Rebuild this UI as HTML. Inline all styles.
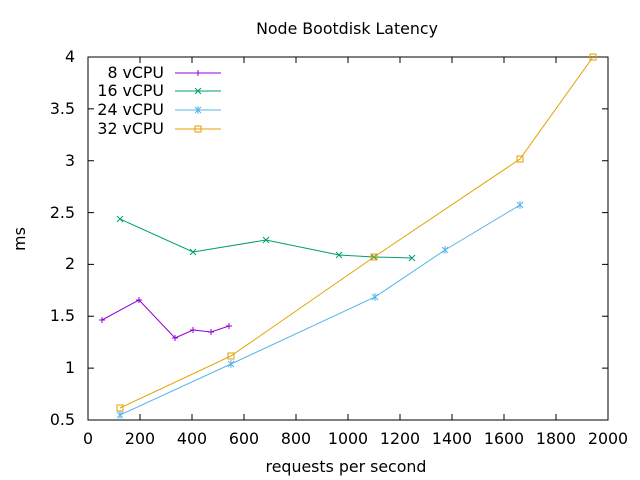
<!DOCTYPE html>
<html><head><meta charset="utf-8"><style>body{margin:0;background:#fff}svg{display:block}text{font-family:"DejaVu Sans","Liberation Sans",sans-serif;font-size:15.8px;fill:#000}</style></head><body>
<svg width="640" height="480" viewBox="0 0 640 480" xmlns="http://www.w3.org/2000/svg">
<rect x="88" y="57" width="520" height="363" fill="none" stroke="#000" stroke-width="1"/>
<g stroke="#000" stroke-width="1">
<path d="M88,420v-6M140,420v-6M192,420v-6M244,420v-6M296,420v-6M348,420v-6M400,420v-6M452,420v-6M504,420v-6M556,420v-6M88,57v6M140,57v6M192,57v6M244,57v6M296,57v6M348,57v6M400,57v6M452,57v6M504,57v6M556,57v6"/>
<path d="M88,420h6M88,368.1h6M88,316.3h6M88,264.4h6M88,212.6h6M88,160.7h6M88,108.9h6M88,57h6M608,368.1h-6M608,316.3h-6M608,264.4h-6M608,212.6h-6M608,160.7h-6M608,108.9h-6"/>
</g>
<g text-anchor="middle">
<text x="88" y="444">0</text><text x="140" y="444">200</text><text x="192" y="444">400</text><text x="244" y="444">600</text><text x="296" y="444">800</text><text x="348" y="444">1000</text><text x="400" y="444">1200</text><text x="452" y="444">1400</text><text x="504" y="444">1600</text><text x="556" y="444">1800</text><text x="608" y="444">2000</text>
<text x="347" y="34">Node Bootdisk Latency</text>
<text x="346" y="472">requests per second</text>
<text x="20" y="244" transform="rotate(-90 20 239)">ms</text>
</g>
<g text-anchor="end">
<text x="75" y="425">0.5</text><text x="75" y="373">1</text><text x="75" y="321">1.5</text><text x="75" y="269">2</text><text x="75" y="218">2.5</text><text x="75" y="166">3</text><text x="75" y="114">3.5</text><text x="75" y="62">4</text>
<text x="164" y="78">8 vCPU</text><text x="164" y="96">16 vCPU</text><text x="164" y="115">24 vCPU</text><text x="164" y="134">32 vCPU</text>
</g>
<g fill="none" stroke-width="1">
<path stroke="#9400d3" d="M175,73H221M102,320L139,300L175,338L193,330L211,332L229,326"/>
<path stroke="#9400d3" d="M198,70v6M195,73h6M99,320h6M102,317v6M136,300h6M139,297v6M172,338h6M175,335v6M190,330h6M193,327v6M208,332h6M211,329v6M226,326h6M229,323v6"/>
<path stroke="#009e73" d="M175,91H221M120,219L193,252L266,240L339,255L374,257L412,258"/>
<path stroke="#009e73" d="M195,88l6,6M195,94l6,-6M117,216l6,6M117,222l6,-6M190,249l6,6M190,255l6,-6M263,237l6,6M263,243l6,-6M336,252l6,6M336,258l6,-6M371,254l6,6M371,260l6,-6M409,255l6,6M409,261l6,-6"/>
<path stroke="#56b4e9" d="M175,110H221M120,415L231,364L375,297L445,250L520,205"/>
<path stroke="#56b4e9" d="M195,107l6,6M195,113l6,-6M198,106v8M117,412l6,6M117,418l6,-6M120,411v8M228,361l6,6M228,367l6,-6M231,360v8M372,294l6,6M372,300l6,-6M375,293v8M442,247l6,6M442,253l6,-6M445,246v8M517,202l6,6M517,208l6,-6M520,201v8"/>
<path stroke="#e69f00" d="M175,129H221M120,408L231,356L374,257L520,159L593,57"/>
<path stroke="#e69f00" d="M195,126h6v6h-6zM117,405h6v6h-6zM228,353h6v6h-6zM371,254h6v6h-6zM517,156h6v6h-6zM590,54h6v6h-6z"/>
</g>
</svg>
</body></html>
